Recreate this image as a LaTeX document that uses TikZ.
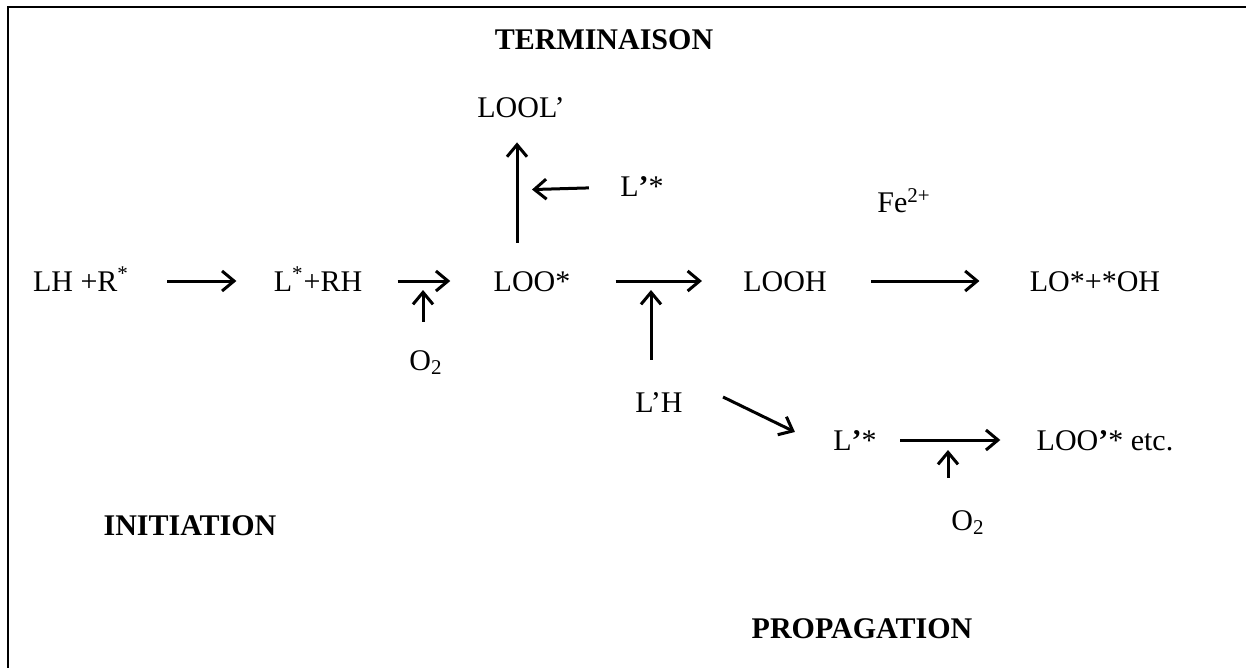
\documentclass[tikz,border=0pt]{standalone}
\usepackage{fontspec}
\setmainfont{Liberation Serif}
\usepackage{tikz}
\usetikzlibrary{arrows.meta}

\begin{document}
\begin{tikzpicture}[x=0.5pt, y=-0.5pt,
  species/.style={inner sep=0pt, text height=10pt, text depth=0pt, font=\fontsize{15}{18}\selectfont},
  stage/.style={species, font=\fontsize{15}{18}\selectfont\bfseries},
  react/.style={line width=1.5pt, -{Straight Barb[length=6pt, width=10pt]}}]
  \useasboundingbox (0,0) rectangle (1246,668);
  \draw[line width=1pt] (8,668) -- (8,7) -- (1246,7);

  % stages
  \node (term) [stage] at (604,40) {TERMINAISON};
  \node (init) [stage] at (190,525) {INITIATION};
  \node (prop) [stage] at (862,628) {PROPAGATION};

  % species
  \node (lhr) [species] at (81,281) {LH +R\textsuperscript{*}};
  \node (lrh) [species] at (318,281) {L\textsuperscript{*}+RH};
  \node (loo) [species] at (532,281) {LOO*};
  \node (lool) [species] at (521,108) {LOOL’};
  \node (lpa) [species] at (642,187) {L\textbf{’}*};
  \node (looh) [species] at (785,281) {LOOH};
  \node (lo) [species] at (1095,281) {LO*+*OH};
  \node (fe) [species] at (904,203) {Fe\textsuperscript{2+}};
  \node (o2a) [species] at (426,360) {O\textsubscript{2}};
  \node (lph) [species] at (659,402) {L’H};
  \node (lpb) [species] at (855,440) {L\textbf{’}*};
  \node (loop) [species] at (1105,440) {LOO\textbf{’}* etc.};
  \node (o2b) [species] at (968,520) {O\textsubscript{2}};

  % junctions
  \coordinate (m2) at (423,279);
  \coordinate (v3) at (517,190);
  \coordinate (m5) at (651,279);
  \coordinate (m8) at (948,436);

  % reactions
  \draw[react, shorten <=19pt, shorten >=18.5pt] (lhr.east) -- (lrh.west);
  \draw[react, shorten <=17.5pt, shorten >=21.5pt] (lrh.east) -- (loo.west);
  \draw[react, shorten <=14pt, shorten >=5.5pt] (m2 |- o2a.north) -- (m2);
  \draw[react, shorten <=14pt, shorten >=12pt] (loo.north -| v3) -- (lool.south -| v3);
  \draw[react, shorten <=15.5pt, shorten >=7.5pt] (lpa.west) -- (v3);
  \draw[react, shorten <=22.5pt, shorten >=20.5pt] (loo.east) -- (looh.west);
  \draw[react, shorten <=16pt, shorten >=5.5pt] (m5 |- lph.north) -- (m5);
  \draw[react, shorten <=22pt, shorten >=25pt] (looh.east) -- (lo.west);
  \draw[react] ([xshift=20pt, yshift=2.5pt]lph.east) -- ([xshift=-19pt, yshift=4pt]lpb.west);
  \draw[react, shorten <=11.5pt, shorten >=18pt] (lpb.east) -- (loop.west);
  \draw[react, shorten <=16pt, shorten >=7pt] (m8 |- o2b.north) -- (m8);
\end{tikzpicture}
\end{document}
